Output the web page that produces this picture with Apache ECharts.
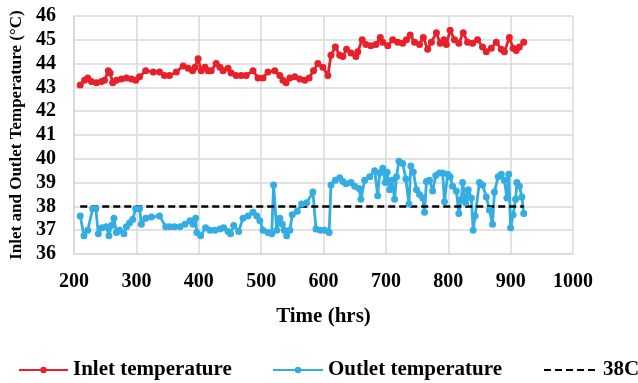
<!DOCTYPE html>
<html>
  <head>
    <meta charset="utf-8" />
    <title>Inlet and Outlet Temperature</title>
    <style type="text/css">
      html,
      body {
        width: 100%;
        height: 100%;
        margin: 0px;
        background: #fff;
      }
      #chart {
        width: 638px;
        height: 383px;
      }
    </style>
    <script type="text/javascript" src="https://cdn.jsdelivr.net/npm/echarts@6/dist/echarts.min.js"></script>
  </head>
  <body>
    <div id="chart"></div>
    <script>
      // values
      const inletTime = [210, 217, 222, 228, 236, 244, 249, 255, 258, 262, 268, 276, 284, 292, 299, 305, 315, 327, 337, 345,
        353, 364, 375, 383, 390, 394, 399, 404, 410, 415, 420, 428, 434, 439, 447, 452, 460, 468, 476, 487,
        495, 503, 511, 522, 530, 535, 540, 546, 554, 562, 570, 577, 584, 591, 599, 607, 612, 619, 626, 631,
        637, 644, 652, 655, 662, 668, 676, 684, 691, 695, 703, 711, 719, 727, 733, 739, 746, 754, 760, 767,
        773, 781, 787, 793, 797, 803, 810, 817, 824, 831, 839, 847, 855, 861, 869, 877, 885, 890, 898, 904,
        909, 914, 921];
      const inletTemp = [43.1, 43.3, 43.4, 43.25, 43.2, 43.25, 43.3, 43.7, 43.6, 43.2, 43.3, 43.35, 43.4, 43.35, 43.3, 43.45, 43.7, 43.65, 43.65, 43.5,
        43.5, 43.65, 43.9, 43.8, 43.7, 43.85, 44.2, 43.7, 43.85, 43.7, 43.7, 44.0, 43.85, 43.7, 43.8, 43.6, 43.5, 43.5, 43.5, 43.7,
        43.4, 43.4, 43.65, 43.7, 43.5, 43.3, 43.2, 43.4, 43.45, 43.35, 43.3, 43.4, 43.7, 44.0, 43.85, 43.5, 44.35, 44.7, 44.35, 44.3,
        44.6, 44.45, 44.3, 44.5, 45.0, 44.8, 44.75, 44.8, 45.1, 44.9, 44.75, 45.0, 44.9, 44.85, 45.0, 45.2, 44.9, 44.8, 45.1, 44.6,
        44.9, 45.3, 44.85, 45.0, 44.8, 45.4, 45.0, 44.85, 45.3, 44.9, 44.85, 45.0, 44.7, 44.5, 44.65, 44.9, 44.6, 44.5, 45.1, 44.65,
        44.55, 44.7, 44.9];

      const outletTime = [210, 216, 222, 230, 235, 239, 245, 252, 256, 260, 264, 268, 273, 280, 284, 289, 294, 299, 305, 308,
        315, 324, 337, 347, 353, 361, 370, 378, 386, 391, 395, 397, 403, 411, 418, 426, 434, 440, 447, 451,
        456, 464, 471, 479, 487, 493, 498, 503, 511, 517, 520, 525, 530, 534, 537, 541, 546, 550, 558, 565,
        573, 583, 588, 595, 602, 609, 612, 619, 626, 631, 636, 644, 650, 657, 660, 666, 674, 682, 687, 690,
        695, 699, 702, 706, 710, 714, 717, 721, 727, 732, 737, 740, 744, 749, 754, 759, 762, 765, 770, 775,
        780, 786, 791, 794, 799, 803, 807, 813, 817, 821, 823, 828, 832, 837, 840, 843, 850, 855, 861, 866,
        871, 874, 880, 885, 890, 894, 897, 900, 904, 908, 910, 914, 918, 921];
      const outletTemp = [37.6, 36.77, 37.0, 37.9, 37.9, 36.85, 37.1, 37.15, 36.77, 37.2, 37.5, 36.9, 37.0, 36.85, 37.15, 37.3, 37.45, 37.9, 37.9, 37.25,
        37.5, 37.55, 37.6, 37.15, 37.15, 37.15, 37.15, 37.25, 37.4, 37.25, 37.5, 36.9, 36.77, 37.1, 37.0, 37.0, 37.05, 37.1, 36.95, 36.85,
        37.2, 36.95, 37.5, 37.6, 37.75, 37.6, 37.4, 37.0, 36.9, 36.85, 38.9, 37.0, 37.5, 37.25, 37.0, 36.77, 37.0, 37.65, 37.8, 38.1,
        38.15, 38.6, 37.05, 37.0, 37.0, 36.9, 38.9, 39.1, 39.2, 39.05, 38.95, 39.0, 38.85, 38.75, 38.3, 39.1, 39.25, 39.5, 38.45, 39.4,
        39.6, 39.0, 39.43, 38.7, 39.1, 38.3, 39.25, 39.9, 39.8, 39.15, 38.1, 39.7, 39.45, 38.7, 38.5, 38.35, 37.75, 39.05, 39.1, 38.65,
        39.3, 39.4, 39.4, 38.2, 39.35, 39.25, 38.85, 38.65, 37.7, 38.3, 39.0, 38.15, 38.7, 38.35, 37.0, 37.6, 39.0, 38.9, 38.4, 37.85,
        37.25, 38.6, 39.25, 39.35, 39.1, 38.35, 39.35, 37.1, 37.65, 38.3, 39.0, 38.85, 38.4, 37.7];

      const refTime = [210, 921];
      const refTemp = [38, 38];

      const seriesNames = ['Inlet temperature', 'Outlet temperature', '38C'];

      const pairs = (xs, ys) => xs.map((x, i) => [x, ys[i]]);

      const font = 'Liberation Serif';
      const red = '#e8202a';
      const blue = '#33ade2';
      const chart = echarts.init(document.getElementById('chart'), null, { renderer: 'canvas' });

      const legendText = { fontFamily: font, fontWeight: 'bold', fontSize: 21, lineHeight: 22, color: '#000' };
      const legendAt = (left, width, item) => ({
        top: 359,
        left: left,
        padding: 0,
        itemWidth: width,
        itemHeight: 8,
        textStyle: legendText,
        data: [item]
      });

      const option = {
        animation: false,
        grid: { left: 74, right: 65, top: 16, bottom: 129 },
        xAxis: {
          type: 'value',
          min: 200,
          max: 1000,
          interval: 100,
          name: 'Time (hrs)',
          nameLocation: 'middle',
          nameGap: 52,
          nameTextStyle: { fontFamily: font, fontWeight: 'bold', fontSize: 21, color: '#000' },
          axisLine: { show: true, lineStyle: { color: '#d9d9d9', width: 1.5 } },
          axisTick: { show: false },
          axisLabel: {
            fontFamily: font, fontWeight: 'bold', fontSize: 20, color: '#000', margin: 18,
            formatter: (v) => String(v)
          },
          splitLine: { show: true, lineStyle: { color: '#d9d9d9', width: 1.5 } }
        },
        yAxis: {
          type: 'value',
          min: 36,
          max: 46,
          interval: 1,
          name: 'Inlet and Outlet Temperature (°C)',
          nameLocation: 'middle',
          nameGap: 46,
          nameTextStyle: { fontFamily: font, fontWeight: 'bold', fontSize: 17, color: '#000' },
          axisLine: { show: true, lineStyle: { color: '#d9d9d9', width: 1.5 } },
          axisTick: { show: false },
          axisLabel: { fontFamily: font, fontWeight: 'bold', fontSize: 20, color: '#000', margin: 18 },
          splitLine: { show: true, lineStyle: { color: '#d9d9d9', width: 1.5 } }
        },
        legend: [
          legendAt(18, 49, seriesNames[0]),
          legendAt(272, 50, seriesNames[1]),
          legendAt(543, 54, { name: seriesNames[2], itemStyle: { opacity: 0 } })
        ],
        series: [
          {
            name: seriesNames[0],
            type: 'line',
            data: pairs(inletTime, inletTemp),
            symbol: 'circle',
            symbolSize: 7,
            itemStyle: { color: red },
            lineStyle: { color: red, width: 2.8 }
          },
          {
            name: seriesNames[1],
            type: 'line',
            data: pairs(outletTime, outletTemp),
            symbol: 'circle',
            symbolSize: 7,
            itemStyle: { color: blue },
            lineStyle: { color: blue, width: 2.8 }
          },
          {
            name: seriesNames[2],
            type: 'line',
            data: pairs(refTime, refTemp),
            symbol: 'none',
            itemStyle: { color: '#000' },
            lineStyle: { color: '#000', width: 2.5, type: [7, 4] }
          }
        ]
      };

      chart.setOption(option);
    </script>
  </body>
</html>
